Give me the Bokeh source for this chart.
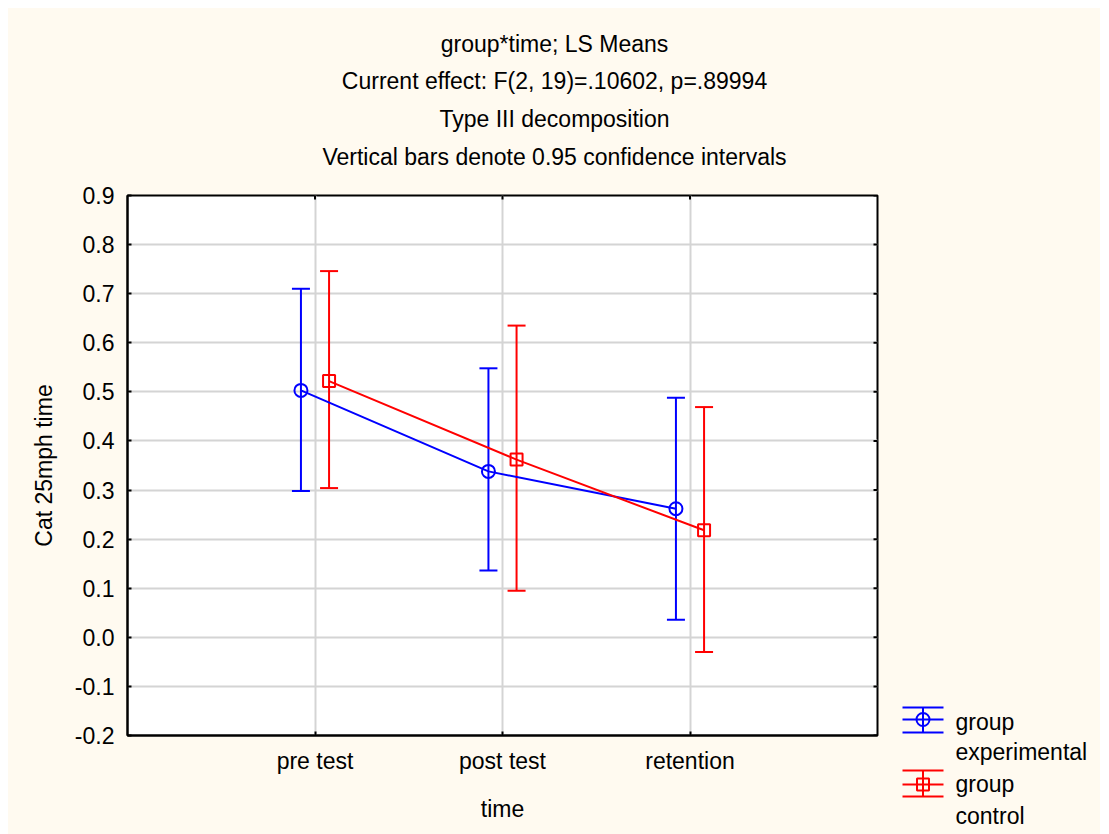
from bokeh.plotting import figure
from bokeh.models import (Range1d, FixedTicker, NumeralTickFormatter, Whisker,
                          ColumnDataSource, TeeHead)
from bokeh.layouts import row, column
from bokeh.embed import file_html
from bokeh.resources import INLINE
from bokeh.core.properties import value

# ---------------- data ----------------
categories = ["pre test", "post test", "retention"]
cat_pos = [1, 2, 3]
exp_mean = [0.503, 0.338, 0.262]
exp_lower = [0.298, 0.136, 0.036]
exp_upper = [0.710, 0.548, 0.488]
ctl_mean = [0.522, 0.362, 0.218]
ctl_lower = [0.304, 0.095, -0.030]
ctl_upper = [0.746, 0.635, 0.469]
y_ticks = [-0.2, -0.1, 0.0, 0.1, 0.2, 0.3, 0.4, 0.5, 0.6, 0.7, 0.8, 0.9]
titles = ["group*time; LS Means",
          "Current effect: F(2, 19)=.10602, p=.89994",
          "Type III decomposition",
          "Vertical bars denote 0.95 confidence intervals"]
x_label = "time"
y_label = "Cat 25mph time"
legend_labels = [("group", "experimental"), ("group", "control")]

# ---------------- style / layout ----------------
FONT = "Liberation Sans"
FS = "23px"
CREAM = "#FFFAF0"
BLUE = "#0000FF"
RED = "#FF0000"
GRID = "#D4D4D4"
DODGE = 0.075

W_TOTAL = 1092
W_MAIN = 884
W_LEG = W_TOTAL - W_MAIN
H_TOP = 168
H_MAIN = 658
X0, X1, Y0, Y1 = 0.0, 4.0, -0.2, 0.9
FRAME_W = W_MAIN - 119 - 15
FRAME_H = H_MAIN - 19 - 99
TICK_PX = 4

# ---------------- title panel ----------------
tf = figure(width=W_TOTAL, height=H_TOP, x_range=Range1d(0, W_TOTAL), y_range=Range1d(H_TOP, 0),
            output_backend="svg", toolbar_location=None, title_location=None,
            x_axis_location=None, y_axis_location=None, min_border=0,
            background_fill_color=CREAM, border_fill_color=CREAM)
tf.frame_align = False
tf.outline_line_color = None
tf.grid.visible = False
tf.text(x=[W_TOTAL / 2] * len(titles), y=[35, 72.5, 110, 148], text=titles,
        text_font=value(FONT), text_font_size=FS, text_align="center",
        text_baseline="middle", text_color="black")

# ---------------- main plot ----------------
p = figure(width=W_MAIN, height=H_MAIN, x_range=Range1d(X0, X1), y_range=Range1d(Y0, Y1),
           output_backend="svg", toolbar_location=None, title_location=None,
           min_border_left=119, min_border_right=15, min_border_bottom=99,
           min_border_top=19,
           background_fill_color="white", border_fill_color=CREAM)
p.frame_align = False
p.outline_line_color = "black"
p.outline_line_width = 2

p.xaxis.ticker = FixedTicker(ticks=cat_pos)
p.xaxis.major_label_overrides = {c: lab for c, lab in zip(cat_pos, categories)}
p.yaxis.ticker = FixedTicker(ticks=y_ticks)
p.yaxis.formatter = NumeralTickFormatter(format="0.0")
for ax in (p.xaxis, p.yaxis):
    ax.axis_line_color = "black"
    ax.axis_line_width = 2
    ax.major_tick_in = TICK_PX
    ax.major_tick_out = 0
    ax.major_tick_line_width = 2
    ax.major_tick_line_color = "black"
    ax.minor_tick_line_color = None
    ax.major_label_text_font = FONT
    ax.major_label_text_font_size = FS
    ax.major_label_text_color = "black"
    ax.axis_label_text_font = FONT
    ax.axis_label_text_font_size = FS
    ax.axis_label_text_font_style = "normal"
    ax.axis_label_text_color = "black"
p.xaxis.axis_label = x_label
p.yaxis.axis_label = y_label
p.xaxis.major_label_standoff = 12
p.xaxis.axis_label_standoff = 19
p.yaxis.major_label_standoff = 13
p.yaxis.axis_label_standoff = 15

p.xgrid.grid_line_color = GRID
p.xgrid.grid_line_width = 2
p.ygrid.grid_line_color = GRID
p.ygrid.grid_line_width = 2

# inward ticks on the right and top border (derived from the tick arrays)
dx = TICK_PX / FRAME_W * (X1 - X0)
dy = TICK_PX / FRAME_H * (Y1 - Y0)
p.segment(x0=[X1 - dx] * len(y_ticks), y0=y_ticks, x1=[X1] * len(y_ticks), y1=y_ticks,
          line_color="black", line_width=2)
p.segment(x0=cat_pos, y0=[Y1 - dy] * len(cat_pos), x1=cat_pos, y1=[Y1] * len(cat_pos),
          line_color="black", line_width=2)

exp_x = [c - DODGE for c in cat_pos]
ctl_x = [c + DODGE for c in cat_pos]
src_e = ColumnDataSource(dict(x=exp_x, m=exp_mean, lo=exp_lower, up=exp_upper))
src_c = ColumnDataSource(dict(x=ctl_x, m=ctl_mean, lo=ctl_lower, up=ctl_upper))

for src, col in ((src_e, BLUE), (src_c, RED)):
    w = Whisker(source=src, base="x", upper="up", lower="lo", line_color=col, line_width=2,
                upper_head=TeeHead(size=18, line_color=col, line_width=2),
                lower_head=TeeHead(size=18, line_color=col, line_width=2))
    p.add_layout(w)

p.line("x", "m", source=src_e, line_color=BLUE, line_width=2)
p.line("x", "m", source=src_c, line_color=RED, line_width=2)
p.scatter("x", "m", source=src_e, marker="circle", size=13, fill_color=None,
          line_color=BLUE, line_width=2)
p.scatter("x", "m", source=src_c, marker="square", size=12, fill_color=None,
          line_color=RED, line_width=2)

# ---------------- legend panel ----------------
lf = figure(width=W_LEG, height=H_MAIN, x_range=Range1d(0, W_LEG), y_range=Range1d(H_MAIN, 0),
            output_backend="svg", toolbar_location=None, title_location=None,
            x_axis_location=None, y_axis_location=None, min_border=0,
            background_fill_color=CREAM, border_fill_color=CREAM)
lf.frame_align = False
lf.outline_line_color = None
lf.grid.visible = False

leg_rows = [(531, 543, 556, 545, 575), (594, 608, 620, 607, 639)]
leg_colors = [BLUE, RED]
leg_markers = ["circle", "square"]
leg_sizes = [13, 12]
x0, x1, xc, xt = 10, 51, 30.5, 63
for (yt, ym, yb, yl1, yl2), col, mk, sz, (l1, l2) in zip(leg_rows, leg_colors, leg_markers,
                                                        leg_sizes, legend_labels):
    lf.segment(x0=[x0, x0, x0, xc], y0=[yt, ym, yb, yt], x1=[x1, x1, x1, xc], y1=[yt, ym, yb, yb],
               line_color=col, line_width=2)
    lf.scatter([xc], [ym], marker=mk, size=sz, fill_color=None, line_color=col, line_width=2)
    lf.text(x=[xt, xt], y=[yl1, yl2], text=[l1, l2], text_font=value(FONT),
            text_font_size=FS, text_baseline="middle", text_align="left", text_color="black")

inner = row(p, lf, spacing=0, styles={"background-color": CREAM})
layout = column(tf, inner, spacing=0, margin=(8, 0, 0, 8),
                styles={"background-color": CREAM})
open("out.html", "w").write(file_html(layout, INLINE))
